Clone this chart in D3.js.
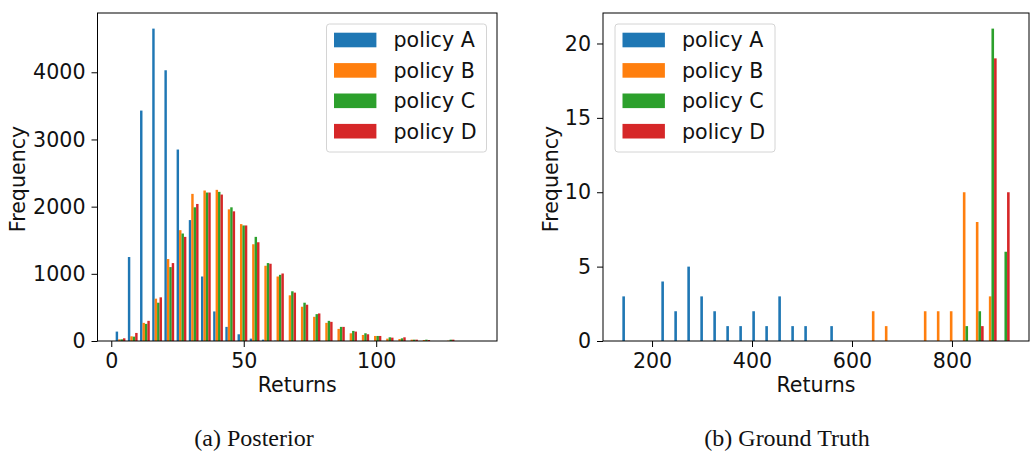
<!DOCTYPE html>
<html>
<head>
<meta charset="utf-8">
<script src="https://cdn.jsdelivr.net/npm/d3@7"></script>
<style>
  body { margin: 0; background: #fff; }
  svg text { font-family: 'DejaVu Sans', sans-serif; fill: #111; }
</style>
</head>
<body>
<div id="figure"></div>
<script>
const policies = ['policy A', 'policy B', 'policy C', 'policy D'];
const policyColors = ['#1f77b4', '#ff7f0e', '#2ca02c', '#d62728'];

// (a) Posterior - 30 bins
const posteriorEdges = [1.2, 5.8, 10.4, 15.0, 19.6, 24.2, 28.8, 33.4, 38.0, 42.6, 47.2, 51.8, 56.4, 61.0, 65.6,
  70.2, 74.8, 79.4, 84.0, 88.6, 93.2, 97.8, 102.4, 107.0, 111.6, 116.2, 120.8, 125.4, 130.0, 134.6, 139.2];
const posteriorA = [140, 1250, 3430, 4650, 4030, 2850, 1800, 960, 440, 210, 100, 35, 20, 5, 0,
  0, 0, 0, 0, 0, 0, 0, 0, 0, 0, 0, 0, 0, 0, 0];
const posteriorB = [25, 70, 270, 630, 1220, 1650, 2190, 2240, 2250, 1960, 1740, 1440, 1120, 960, 680,
  510, 360, 270, 180, 115, 90, 75, 35, 30, 20, 15, 0, 5, 0, 0];
const posteriorC = [25, 65, 255, 570, 1100, 1600, 1990, 2210, 2220, 1990, 1720, 1550, 1160, 985, 740,
  570, 400, 300, 210, 150, 115, 75, 55, 40, 20, 20, 0, 20, 0, 0];
const posteriorD = [40, 120, 300, 650, 1160, 1550, 2040, 2210, 2180, 1930, 1720, 1470, 1150, 1005, 720,
  540, 410, 285, 210, 140, 100, 75, 50, 55, 20, 15, 0, 20, 0, 0];
const posteriorTicksX = [0, 50, 100];
const posteriorTicksY = [0, 1000, 2000, 3000, 4000];

// (b) Ground Truth - 30 bins, 30 episodes per policy
const truthEdges = [138, 164, 190, 216, 242, 268, 294, 320, 346, 372, 398, 424, 450, 476, 502, 528,
  554, 580, 606, 632, 658, 684, 710, 736, 762, 788, 814, 840, 866, 892, 918];
const truthA = [3, 0, 0, 4, 2, 5, 3, 2, 1, 1, 2, 1, 3, 1, 1, 0, 1, 0, 0, 0, 0, 0, 0, 0, 0, 0, 0, 0, 0, 0];
const truthB = [0, 0, 0, 0, 0, 0, 0, 0, 0, 0, 0, 0, 0, 0, 0, 0, 0, 0, 0, 2, 1, 0, 0, 2, 2, 2, 10, 8, 3, 0];
const truthC = [0, 0, 0, 0, 0, 0, 0, 0, 0, 0, 0, 0, 0, 0, 0, 0, 0, 0, 0, 0, 0, 0, 0, 0, 0, 0, 1, 2, 21, 6];
const truthD = [0, 0, 0, 0, 0, 0, 0, 0, 0, 0, 0, 0, 0, 0, 0, 0, 0, 0, 0, 0, 0, 0, 0, 0, 0, 0, 0, 1, 19, 10];
const truthTicksX = [200, 400, 600, 800];
const truthTicksY = [0, 5, 10, 15, 20];

const FONT = 20.6;

class HistogramPanel {
  constructor(svg, opts) {
    this.g = svg.append('g');
    this.left = opts.left;
    this.right = opts.right;
    this.top = 13;
    this.bottom = 341;

    // x domain includes matplotlib's 5% margin around the bars
    this.x = d3.scaleLinear().domain(opts.xDomain).range([this.left, this.right]);
    this.y = d3.scaleLinear().domain([0, opts.yMax]).range([this.bottom, this.top]);
  }

  // grouped bars: 4 bars share 80% of each bin, like plt.hist with a list
  drawBars(edges, seriesList) {
    const n = seriesList.length;
    seriesList.forEach((values, i) => {
      const rows = values.map((v, k) => ({ v, lo: edges[k], w: edges[k + 1] - edges[k] }));
      this.g
        .append('g')
        .attr('fill', policyColors[i])
        .selectAll('rect')
        .data(rows.filter((d) => d.v > 0))
        .join('rect')
        .attr('x', (d) => this.x(d.lo + d.w * (0.1 + (0.8 / n) * i)))
        .attr('width', (d) => this.x(d.lo + d.w * (0.1 + (0.8 / n) * (i + 1))) - this.x(d.lo + d.w * (0.1 + (0.8 / n) * i)))
        .attr('y', (d) => this.y(d.v))
        .attr('height', (d) => this.y(0) - this.y(d.v));
    });
  }

  drawAxes(ticksX, ticksY, ylabelX) {
    const gx = this.g
      .append('g')
      .attr('transform', `translate(0,${this.bottom})`)
      .call(d3.axisBottom(this.x).tickValues(ticksX).tickFormat(d3.format('d')).tickSizeInner(6).tickSizeOuter(0).tickPadding(6));
    gx.select('.domain').remove();

    const gy = this.g
      .append('g')
      .attr('transform', `translate(${this.left},0)`)
      .call(d3.axisLeft(this.y).tickValues(ticksY).tickFormat(d3.format('d')).tickSizeInner(6).tickSizeOuter(0).tickPadding(6));
    gy.select('.domain').remove();

    [gx, gy].forEach((ax) => {
      ax.attr('font-size', null).attr('font-family', null);
      ax.selectAll('text').style('font-size', FONT + 'px');
      ax.selectAll('line').attr('stroke', '#000').attr('stroke-width', 1);
    });

    // frame around the plot
    this.g
      .append('rect')
      .attr('x', this.left)
      .attr('y', this.top)
      .attr('width', this.right - this.left)
      .attr('height', this.bottom - this.top)
      .attr('fill', 'none')
      .attr('stroke', '#000')
      .attr('stroke-width', 1);

    this.g
      .append('text')
      .attr('x', (this.left + this.right) / 2)
      .attr('y', 392)
      .attr('text-anchor', 'middle')
      .style('font-size', FONT + 'px')
      .text('Returns');

    this.g
      .append('text')
      .attr('transform', `translate(${ylabelX},${(this.top + this.bottom) / 2 + 2}) rotate(-90)`)
      .attr('text-anchor', 'middle')
      .style('font-size', FONT + 'px')
      .text('Frequency');
  }

  drawLegend(x, y) {
    const lg = this.g.append('g').attr('transform', `translate(${x},${y})`);
    lg.append('rect')
      .attr('width', 160)
      .attr('height', 128)
      .attr('rx', 3)
      .attr('fill', '#fff')
      .attr('fill-opacity', 0.8)
      .attr('stroke', '#d4d4d4');

    policies.forEach((name, i) => {
      lg.append('rect')
        .attr('x', 7.5)
        .attr('y', 8.7 + i * 30.4)
        .attr('width', 42.4)
        .attr('height', 14.6)
        .attr('fill', policyColors[i]);
      lg.append('text')
        .attr('x', 67)
        .attr('y', 23.3 + i * 30.4)
        .style('font-size', FONT + 'px')
        .text(name);
    });
  }

  caption(text, cx) {
    this.g
      .append('text')
      .attr('x', cx)
      .attr('y', 446)
      .attr('text-anchor', 'middle')
      .style('font-family', "'Liberation Serif', 'Times New Roman', serif")
      .style('font-size', '24px')
      .text(text);
  }
}

const svg = d3.select('#figure').append('svg').attr('width', 1034).attr('height', 451);

const posterior = new HistogramPanel(svg, { left: 97.5, right: 497, xDomain: [-5.2, 145.6], yMax: 4882.5 });
posterior.drawBars(posteriorEdges, [posteriorA, posteriorB, posteriorC, posteriorD]);
posterior.drawAxes(posteriorTicksX, posteriorTicksY, 25);
posterior.drawLegend(326.5, 24);
posterior.caption('(a) Posterior', 254);

const truth = new HistogramPanel(svg, { left: 603, right: 1029, xDomain: [101.9, 954.1], yMax: 22.05 });
truth.drawBars(truthEdges, [truthA, truthB, truthC, truthD]);
truth.drawAxes(truthTicksX, truthTicksY, 558);
truth.drawLegend(615, 24);
truth.caption('(b) Ground Truth', 787);
</script>
</body>
</html>
